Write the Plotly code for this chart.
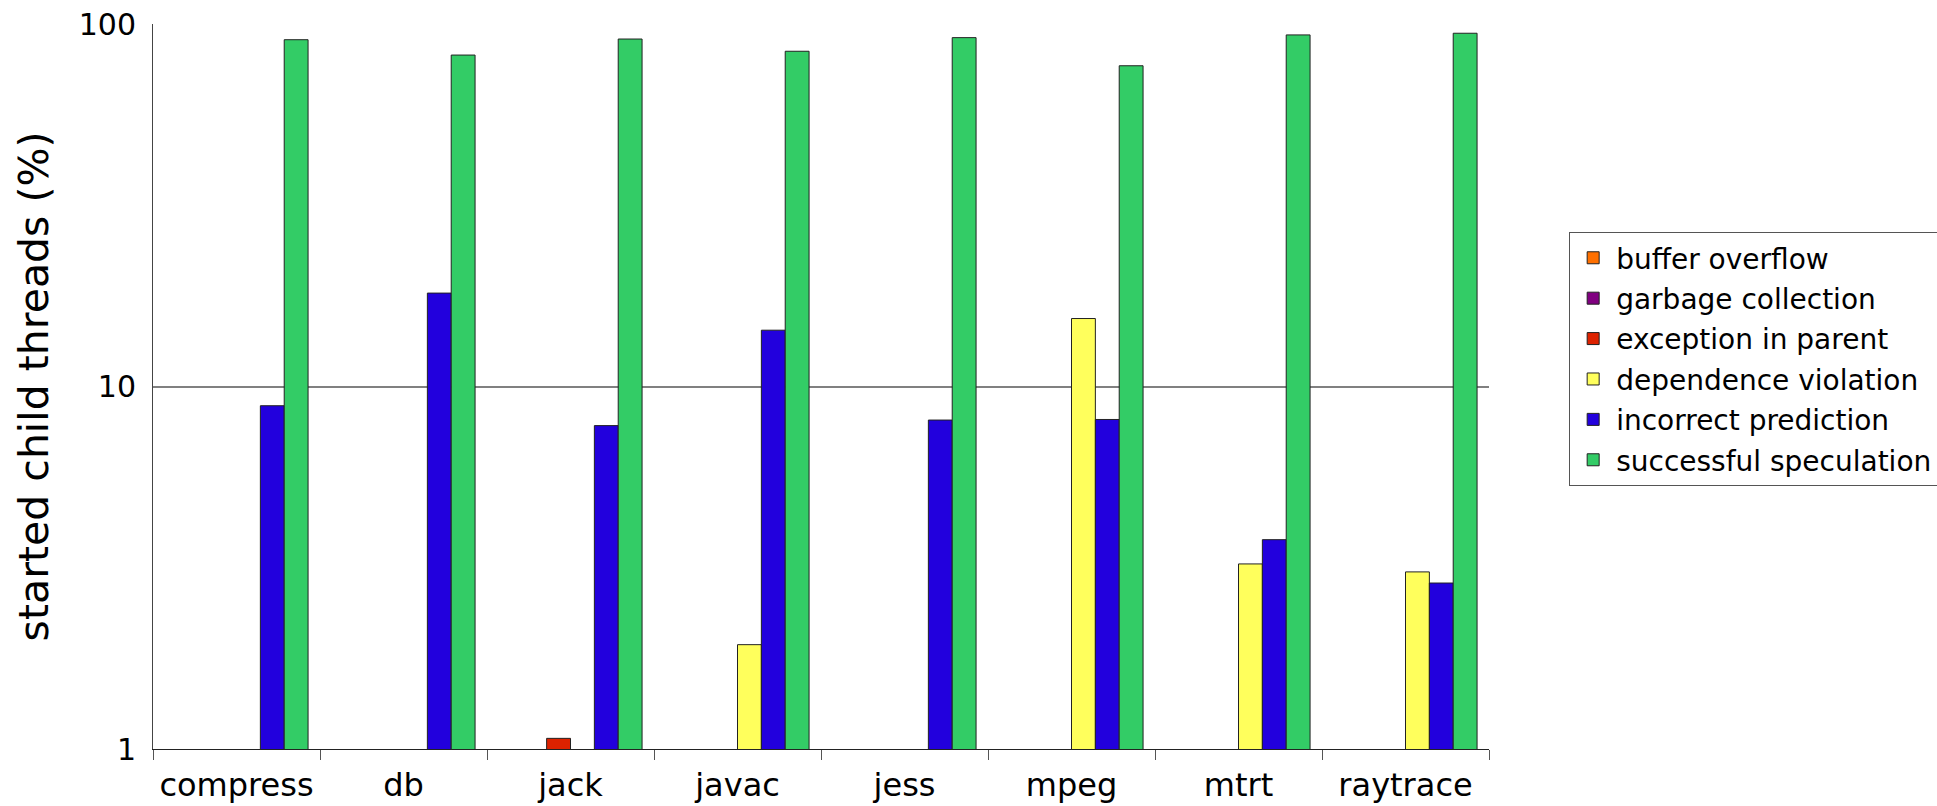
import plotly.graph_objects as go

# Benchmarks (SPECjvm98) and outcome of each started child thread, in percent
benchmarks = ["compress", "db", "jack", "javac", "jess", "mpeg", "mtrt", "raytrace"]

buffer_overflow = [0, 0, 0, 0, 0, 0, 0, 0]
garbage_collection = [0, 0, 0, 0, 0, 0, 0, 0]
exception_in_parent = [0, 0, 1.07, 0, 0, 0, 0, 0]
dependence_violation = [0, 0, 0, 1.94, 0, 15.4, 3.24, 3.08]
incorrect_prediction = [8.85, 18.1, 7.80, 14.3, 8.08, 8.11, 3.78, 2.87]
successful_speculation = [90.5, 82.1, 90.9, 84.1, 91.7, 76.7, 93.3, 94.3]

series = [
    ("buffer overflow", buffer_overflow, "#FF7000"),
    ("garbage collection", garbage_collection, "#800080"),
    ("exception in parent", exception_in_parent, "#DD2200"),
    ("dependence violation", dependence_violation, "#FFFF5C"),
    ("incorrect prediction", incorrect_prediction, "#2200DD"),
    ("successful speculation", successful_speculation, "#33CC66"),
]

fig = go.Figure()
for name, values, color in series:
    fig.add_trace(go.Bar(
        name=name,
        legendgroup=name,
        x=benchmarks,
        y=values,
        marker=dict(color=color, line=dict(color="#222222", width=1)),
    ))

font_family = "DejaVu Sans"

fig.update_layout(
    width=1937,
    height=806,
    margin=dict(l=153, r=448, t=24, b=57, autoexpand=False),
    paper_bgcolor="white",
    plot_bgcolor="white",
    barmode="group",
    bargap=1 / 7,
    bargroupgap=0,
    font=dict(family=font_family, color="black"),
    showlegend=True,
    legend=dict(
        x=1.06, y=0.713, xanchor="left", yanchor="top",
        bgcolor="white", bordercolor="#555555", borderwidth=1,
        font=dict(size=28, family=font_family),
        traceorder="grouped",
        tracegroupgap=1,
        itemwidth=36,
    ),
)

fig.update_xaxes(
    type="category",
    automargin=False,
    tickson="boundaries",
    ticks="outside",
    ticklen=10,
    tickcolor="#555555",
    ticklabelstandoff=8,
    showline=True,
    linecolor="#222222",
    linewidth=1,
    showgrid=False,
    tickfont=dict(size=32, family=font_family),
)

fig.update_yaxes(
    type="log",
    automargin=False,
    range=[0, 2],
    tickvals=[1, 10, 100],
    ticktext=["1", "10", "100"],
    ticks="",
    ticklabelstandoff=10,
    showline=True,
    linecolor="#444444",
    linewidth=1,
    showgrid=True,
    gridcolor="#808080",
    gridwidth=1.5,
    zeroline=False,
    tickfont=dict(size=30, family=font_family),
    title=dict(text="started child threads (%)", font=dict(size=41, family=font_family), standoff=17),
)

fig.write_html("out.html")
